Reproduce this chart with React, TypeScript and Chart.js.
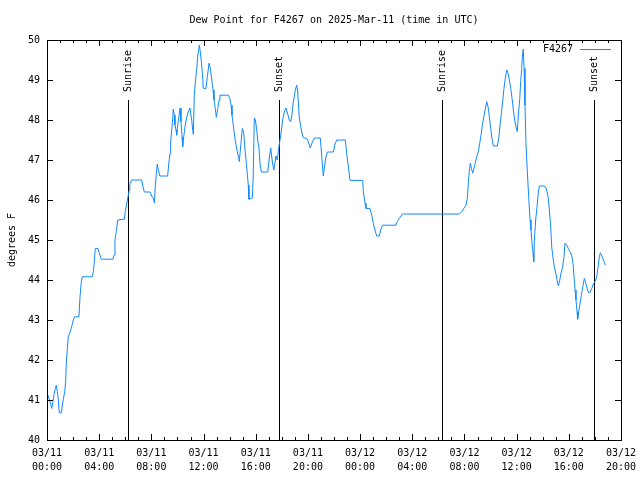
import React, { useEffect, useRef } from 'react';
import { Chart, registerables } from 'chart.js';

Chart.register(...registerables);

const FONT = '"DejaVu Sans Mono", "Liberation Mono", monospace';
const LINE_COLOR = 'rgb(16,136,255)';
const TITLE = 'Dew Point for F4267 on 2025-Mar-11 (time in UTC)';
const SERIES_LABEL = 'F4267';

// hours since 03/11 00:00 UTC
const hours = [
  0.00, 0.08, 0.18, 0.28, 0.36, 0.46, 0.54, 0.64, 0.71, 0.79,
  0.87, 0.94, 1.10, 1.17, 1.25, 1.36, 1.43, 1.48, 1.56, 1.63,
  1.74, 1.82, 1.92, 2.02, 2.12, 2.45, 2.53, 2.63, 2.71, 3.47,
  3.55, 3.63, 3.70, 3.91, 4.01, 4.16, 5.06, 5.14, 5.21, 5.31,
  5.42, 5.93, 6.00, 6.08, 6.16, 6.31, 6.35, 6.49, 7.26, 7.34,
  7.46, 7.90, 8.03, 8.15, 8.23, 8.30, 8.38, 8.46, 8.53, 8.66,
  9.25, 9.33, 9.43, 9.48, 9.56, 9.64, 9.68, 9.76, 9.81, 9.89,
  9.94, 10.02, 10.10, 10.20, 10.27, 10.35, 10.40, 10.48, 10.58, 10.71,
  10.83, 10.96, 11.09, 11.17, 11.22, 11.29, 11.40, 11.48, 11.55, 11.68,
  11.75, 11.83, 11.91, 11.98, 12.19, 12.29, 12.42, 12.52, 12.63, 12.73,
  12.80, 12.90, 12.98, 13.09, 13.19, 13.26, 13.90, 14.01, 14.11, 14.18,
  14.28, 14.39, 14.49, 14.59, 14.70, 14.74, 14.87, 14.97, 15.08, 15.18,
  15.28, 15.35, 15.43, 15.48, 15.74, 15.81, 15.89, 15.97, 16.08, 16.15,
  16.25, 16.33, 16.43, 16.92, 17.04, 17.15, 17.22, 17.30, 17.39, 17.46,
  17.55, 17.65, 17.73, 17.81, 17.91, 17.99, 18.09, 18.19, 18.32, 18.40,
  18.50, 18.57, 18.68, 18.76, 18.86, 18.96, 19.03, 19.14, 19.22, 19.34,
  19.47, 19.60, 19.70, 19.85, 19.98, 20.08, 20.18, 20.34, 20.49, 20.95,
  21.06, 21.13, 21.18, 21.26, 21.36, 21.49, 21.95, 22.08, 22.21, 22.87,
  22.97, 23.10, 23.23, 24.20, 24.25, 24.38, 24.45, 24.76, 24.89, 25.01,
  25.14, 25.27, 25.47, 25.58, 25.73, 26.75, 26.85, 27.01, 27.24, 31.61,
  31.79, 31.91, 32.12, 32.22, 32.30, 32.37, 32.45, 32.53, 32.63, 32.73,
  32.83, 32.94, 33.06, 33.17, 33.27, 33.37, 33.48, 33.58, 33.71, 33.81,
  33.91, 34.01, 34.11, 34.21, 34.52, 34.63, 34.73, 34.83, 34.93, 35.03,
  35.13, 35.24, 35.34, 35.44, 35.55, 35.65, 35.75, 35.85, 35.95, 36.05,
  36.13, 36.24, 36.31, 36.39, 36.44, 36.51, 36.57, 36.64, 36.72, 36.82,
  36.93, 37.03, 37.10, 37.18, 37.26, 37.31, 37.36, 37.46, 37.56, 37.66,
  37.74, 38.05, 38.23, 38.33, 38.43, 38.51, 38.61, 38.69, 38.79, 38.89,
  39.00, 39.10, 39.20, 39.31, 39.40, 39.53, 39.63, 39.71, 39.84, 39.96,
  40.09, 40.22, 40.32, 40.40, 40.48, 40.55, 40.63, 40.68, 40.76, 40.86,
  40.96, 41.07, 41.19, 41.30, 41.40, 41.50, 41.63, 41.76, 41.88, 42.01,
  42.14, 42.26, 42.34, 42.42, 42.53, 42.63, 42.74, 42.80,
];

// dew point, degrees F
const dewPointF = [
  41.10, 41.12, 41.00, 40.90, 40.79, 40.96, 41.14, 41.29, 41.37, 41.21,
  41.00, 40.68, 40.68, 40.85, 41.02, 41.21, 41.46, 41.92, 42.29, 42.58,
  42.67, 42.75, 42.87, 43.00, 43.08, 43.08, 43.58, 43.96, 44.08, 44.08,
  44.21, 44.46, 44.79, 44.79, 44.67, 44.52, 44.52, 44.62, 45.00, 45.21,
  45.50, 45.52, 45.71, 45.85, 46.00, 46.25, 46.40, 46.50, 46.50, 46.35,
  46.20, 46.20, 46.10, 46.04, 45.93, 46.33, 46.66, 46.90, 46.75, 46.60,
  46.60, 46.90, 47.17, 47.46, 47.75, 48.05, 48.27, 48.12, 47.87, 47.75,
  47.62, 47.87, 48.05, 48.30, 47.96, 47.58, 47.33, 47.58, 47.83, 48.07,
  48.20, 48.30, 48.00, 47.75, 47.64, 48.62, 49.04, 49.29, 49.58, 49.87,
  49.71, 49.46, 49.17, 48.79, 48.79, 49.08, 49.42, 49.29, 49.00, 48.75,
  48.50, 48.29, 48.07, 48.29, 48.50, 48.62, 48.62, 48.54, 48.37, 48.12,
  47.87, 47.58, 47.37, 47.20, 47.04, 46.96, 47.42, 47.79, 47.67, 47.25,
  46.92, 46.67, 46.37, 46.02, 46.05, 46.60, 48.05, 48.00, 47.75, 47.50,
  47.30, 46.90, 46.70, 46.70, 47.05, 47.30, 47.10, 46.90, 46.75, 46.90,
  47.10, 47.00, 47.20, 47.40, 47.60, 47.80, 48.05, 48.20, 48.30, 48.20,
  48.10, 48.00, 47.95, 48.10, 48.40, 48.60, 48.75, 48.87, 48.70, 48.05,
  47.80, 47.60, 47.55, 47.55, 47.50, 47.40, 47.30, 47.45, 47.55, 47.55,
  47.10, 46.80, 46.60, 46.80, 47.05, 47.20, 47.20, 47.40, 47.50, 47.50,
  47.17, 46.83, 46.49, 46.49, 46.21, 45.92, 45.79, 45.79, 45.62, 45.42,
  45.25, 45.10, 45.10, 45.25, 45.37, 45.37, 45.46, 45.54, 45.65, 45.65,
  45.71, 45.77, 45.87, 46.04, 46.42, 46.71, 46.92, 46.79, 46.67, 46.79,
  46.92, 47.08, 47.21, 47.42, 47.62, 47.87, 48.08, 48.25, 48.46, 48.33,
  48.08, 47.79, 47.54, 47.35, 47.35, 47.54, 47.87, 48.17, 48.46, 48.79,
  49.04, 49.25, 49.17, 49.00, 48.79, 48.54, 48.25, 48.00, 47.83, 47.71,
  48.12, 48.54, 48.96, 49.29, 49.58, 49.77, 49.29, 48.37, 47.37, 46.71,
  46.04, 45.50, 45.25, 44.92, 44.67, 44.46, 45.00, 45.50, 45.83, 46.17,
  46.35, 46.35, 46.32, 46.21, 46.04, 45.75, 45.33, 44.83, 44.54, 44.33,
  44.17, 44.00, 43.85, 44.00, 44.17, 44.33, 44.58, 44.92, 44.87, 44.79,
  44.71, 44.62, 44.42, 44.08, 43.75, 43.50, 43.21, 43.02, 43.21, 43.42,
  43.62, 43.83, 44.04, 43.92, 43.79, 43.69, 43.69, 43.79, 43.90, 43.96,
  44.08, 44.37, 44.58, 44.68, 44.60, 44.52, 44.43, 44.37,
];

// labelled x ticks
const tickHours = [0, 4, 8, 12, 16, 20, 24, 28, 32, 36, 40, 44];
const tickDates = ['03/11', '03/11', '03/11', '03/11', '03/11', '03/11', '03/12', '03/12', '03/12', '03/12', '03/12', '03/12'];
const tickTimes = ['00:00', '04:00', '08:00', '12:00', '16:00', '20:00', '00:00', '04:00', '08:00', '12:00', '16:00', '20:00'];

// sunrise / sunset markers
const sunLabels = ['Sunrise', 'Sunset', 'Sunrise', 'Sunset'];
const sunHours = [6.21, 17.78, 30.28, 41.93];
const sunLineTop = 48.5;

const gnuplotDecor = {
  id: 'gnuplotDecor',
  beforeDatasetsDraw(chart: any) {
    const { ctx, chartArea: a, scales } = chart;
    const x = scales.x;
    const y = scales.y;
    ctx.save();
    ctx.strokeStyle = '#000';
    ctx.fillStyle = '#000';
    ctx.lineWidth = 1;
    ctx.font = '10px ' + FONT;
    const topY = Math.round(y.getPixelForValue(sunLineTop));
    sunHours.forEach((h, i) => {
      const px = Math.round(x.getPixelForValue(h)) + 0.5;
      ctx.beginPath();
      ctx.moveTo(px, topY);
      ctx.lineTo(px, a.bottom);
      ctx.stroke();
      ctx.save();
      ctx.translate(px, topY - 8);
      ctx.rotate(-Math.PI / 2);
      ctx.textAlign = 'left';
      ctx.textBaseline = 'middle';
      ctx.fillText(sunLabels[i], 0, 0);
      ctx.restore();
    });
    ctx.restore();
  },
  afterDraw(chart: any) {
    const { ctx, chartArea: a, scales } = chart;
    const x = scales.x;
    const y = scales.y;
    ctx.save();
    ctx.strokeStyle = '#000';
    ctx.lineWidth = 1;
    ctx.beginPath();
    x.ticks.forEach((t: any) => {
      const px = Math.round(x.getPixelForValue(t.value)) + 0.5;
      const len = tickHours.includes(t.value) ? 6 : 3;
      ctx.moveTo(px, a.bottom);
      ctx.lineTo(px, a.bottom - len);
      ctx.moveTo(px, a.top);
      ctx.lineTo(px, a.top + len);
    });
    y.ticks.forEach((t: any) => {
      const py = Math.round(y.getPixelForValue(t.value)) + 0.5;
      ctx.moveTo(a.left, py);
      ctx.lineTo(a.left + 6, py);
      ctx.moveTo(a.right, py);
      ctx.lineTo(a.right - 6, py);
    });
    ctx.stroke();
    ctx.strokeRect(
      Math.round(a.left) + 0.5,
      Math.round(a.top) + 0.5,
      Math.round(a.right - a.left),
      Math.round(a.bottom - a.top)
    );
    // legend
    const ds = chart.data.datasets[0];
    const ly = Math.round(a.top + 9) + 0.5;
    ctx.font = '10px ' + FONT;
    ctx.fillStyle = '#000';
    ctx.textAlign = 'right';
    ctx.textBaseline = 'middle';
    ctx.fillText(ds.label, a.right - 48, ly);
    ctx.strokeStyle = ds.borderColor;
    ctx.beginPath();
    ctx.moveTo(a.right - 41, ly);
    ctx.lineTo(a.right - 10, ly);
    ctx.stroke();
    ctx.restore();
  },
};

export default function App() {
  const ref = useRef<HTMLCanvasElement>(null);

  useEffect(() => {
    const canvas = ref.current;
    if (!canvas) return;
    const tickFont = { family: FONT, size: 10, weight: 'normal' as const, lineHeight: 1.2 };
    const chart = new Chart(canvas, {
      type: 'line',
      data: {
        datasets: [
          {
            label: SERIES_LABEL,
            data: hours.map((h, i) => ({ x: h, y: dewPointF[i] })),
            borderColor: LINE_COLOR,
            backgroundColor: LINE_COLOR,
            borderWidth: 1,
            pointRadius: 0,
            tension: 0,
            fill: false,
          },
        ],
      },
      options: {
        responsive: false,
        animation: false,
        devicePixelRatio: 1,
        layout: { padding: { left: 0, right: 19, top: 0, bottom: 0 } },
        plugins: {
          legend: { display: false },
          tooltip: { enabled: false },
          title: {
            display: true,
            text: TITLE,
            fullSize: false,
            color: '#000',
            font: tickFont,
            padding: { top: 14, bottom: 14 },
          },
        },
        scales: {
          x: {
            type: 'linear',
            min: 0,
            max: 44,
            grid: { display: false, drawTicks: false },
            border: { display: false },
            afterFit: (s: any) => {
              s.height = 40;
              s.paddingLeft = 0;
              s.paddingRight = 0;
            },
            ticks: {
              stepSize: 1,
              autoSkip: false,
              maxRotation: 0,
              minRotation: 0,
              padding: 6,
              color: '#000',
              font: { family: FONT, size: 10, weight: 'normal', lineHeight: 1.4 },
              callback: (v: any) => {
                const i = tickHours.indexOf(Number(v));
                return i >= 0 ? [tickDates[i], tickTimes[i]] : '';
              },
            },
          },
          y: {
            type: 'linear',
            min: 40,
            max: 50,
            grid: { display: false, drawTicks: false },
            border: { display: false },
            afterFit: (s: any) => {
              s.width = 47;
            },
            ticks: {
              stepSize: 1,
              padding: 7,
              color: '#000',
              font: tickFont,
            },
            title: {
              display: true,
              text: 'degrees F',
              color: '#000',
              font: tickFont,
              padding: { top: 6, bottom: 0 },
            },
          },
        },
      },
      plugins: [gnuplotDecor],
    });
    return () => chart.destroy();
  }, []);

  return (
    <div style={{ position: 'fixed', left: 0, top: 0, width: 640, height: 480, background: '#fff' }}>
      <canvas ref={ref} width={640} height={480} style={{ display: 'block' }} />
    </div>
  );
}
